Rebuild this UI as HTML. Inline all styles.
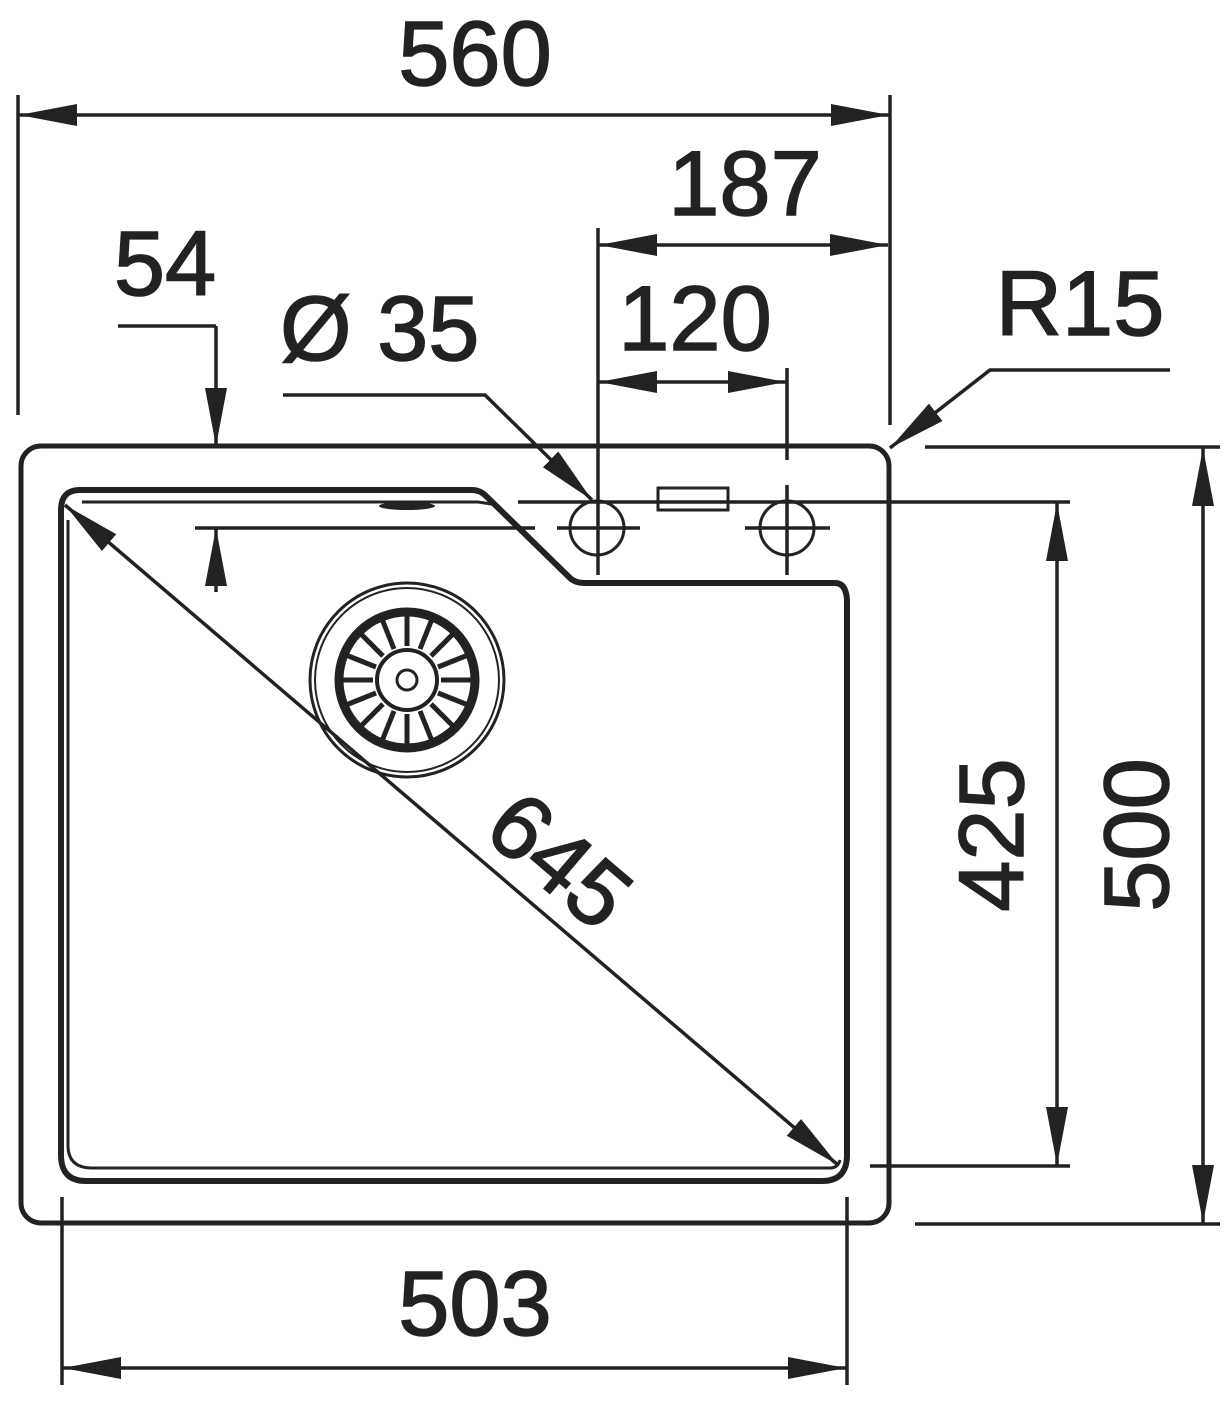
<!DOCTYPE html>
<html><head><meta charset="utf-8"><style>
html,body{margin:0;padding:0;background:#fff;}
svg{display:block;}
text{font-family:"Liberation Sans",sans-serif;fill:#222;font-size:92px;stroke:#222;stroke-width:1.5px;}
</style></head><body>
<svg width="1232" height="1404" viewBox="0 0 1232 1404" xmlns="http://www.w3.org/2000/svg">
<defs>
<marker id="a" markerUnits="userSpaceOnUse" markerWidth="60" markerHeight="24" refX="58" refY="11" orient="auto-start-reverse">
<path d="M0,0 L58,11 L0,22 z" fill="#222"/>
</marker>
</defs>
<g stroke="#222" fill="none">
<rect x="21" y="446" width="868" height="777" rx="20" stroke-width="5"/>
<path d="M80,490 L472,490 Q480,490 486,496 L570,578 Q575,583 585,583 L835,583 Q846,583 847,600 L847,1155 Q847,1181 822,1181 L86,1181 Q61,1181 61,1155 L61,510 Q61,490 80,490 Z" stroke-width="6"/>
<path d="M82,502 L478,502 L498,505 M68,520 L68,1145 Q68,1168 92,1168 L830,1168 Q838,1168 840,1160" stroke-width="3"/>
<ellipse cx="407" cy="506" rx="28" ry="4" fill="#222" stroke="none"/>
<circle cx="407" cy="680" r="97" stroke-width="3"/>
<circle cx="407" cy="680" r="92" stroke-width="2"/>
<circle cx="407" cy="680" r="68" stroke-width="9"/>
<circle cx="407" cy="680" r="30" stroke-width="4"/>
<circle cx="407" cy="680" r="10" stroke-width="3"/>
<g stroke-width="5">
<path d="M407,646 L407,614 M407,714 L407,746 M373,680 L341,680 M441,680 L473,680 M431,656 L454,633 M383,704 L360,727 M431,704 L454,727 M383,656 L360,633 M420,649 L432,619 M394,711 L382,741 M394,649 L382,619 M420,711 L432,741 M376,667 L346,655 M438,693 L468,705 M376,693 L346,705 M438,667 L468,655"/>
</g>
<circle cx="597" cy="528" r="27" stroke-width="3"/>
<circle cx="787" cy="528" r="27" stroke-width="3"/>
<rect x="658" y="488" width="70" height="22" stroke-width="3"/>
<g stroke-width="3.5">
<line x1="598" y1="228" x2="598" y2="575"/>
<line x1="787" y1="368" x2="787" y2="460"/>
<line x1="787" y1="485" x2="787" y2="575"/>
<line x1="518" y1="502" x2="1070" y2="502"/>
<line x1="195" y1="528" x2="535" y2="528"/>
<line x1="557" y1="528" x2="640" y2="528"/>
<line x1="745" y1="528" x2="830" y2="528"/>
<line x1="18" y1="95" x2="18" y2="415"/>
<line x1="890" y1="95" x2="890" y2="425"/>
<line x1="19" y1="115" x2="889" y2="115" marker-start="url(#a)" marker-end="url(#a)"/>
<line x1="599" y1="245" x2="888" y2="245" marker-start="url(#a)" marker-end="url(#a)"/>
<line x1="599" y1="382" x2="786" y2="382" marker-start="url(#a)" marker-end="url(#a)"/>
<line x1="118" y1="326" x2="216" y2="326"/>
<line x1="216" y1="326" x2="216" y2="446" marker-end="url(#a)"/>
<line x1="216" y1="592" x2="216" y2="528" marker-end="url(#a)"/>
<polyline points="283,395 485,395 592,500" marker-end="url(#a)"/>
<polyline points="1170,370 990,370 890,448" marker-end="url(#a)"/>
<line x1="870" y1="1166" x2="1070" y2="1166"/>
<line x1="1057" y1="503" x2="1057" y2="1165" marker-start="url(#a)" marker-end="url(#a)"/>
<line x1="925" y1="447" x2="1220" y2="447"/>
<line x1="915" y1="1224" x2="1220" y2="1224"/>
<line x1="1203" y1="448" x2="1203" y2="1223" marker-start="url(#a)" marker-end="url(#a)"/>
<line x1="62" y1="1197" x2="62" y2="1385"/>
<line x1="847" y1="1197" x2="847" y2="1385"/>
<line x1="63" y1="1368" x2="846" y2="1368" marker-start="url(#a)" marker-end="url(#a)"/>
<line x1="65" y1="505" x2="838" y2="1165" marker-start="url(#a)" marker-end="url(#a)"/>
</g>
</g>
<text x="475" y="85" text-anchor="middle">560</text>
<text x="745" y="215" text-anchor="middle">187</text>
<text x="695" y="350" text-anchor="middle">120</text>
<text x="165" y="295" text-anchor="middle">54</text>
<text x="280" y="360">Ø 35</text>
<text x="1080" y="335" text-anchor="middle">R15</text>
<text x="475" y="1335" text-anchor="middle">503</text>
<text transform="translate(1023,835) rotate(-90)" text-anchor="middle">425</text>
<text transform="translate(1168,835) rotate(-90)" text-anchor="middle">500</text>
<text transform="translate(560,860) rotate(40.5)" text-anchor="middle" dy="32">645</text>
</svg>
</body></html>
